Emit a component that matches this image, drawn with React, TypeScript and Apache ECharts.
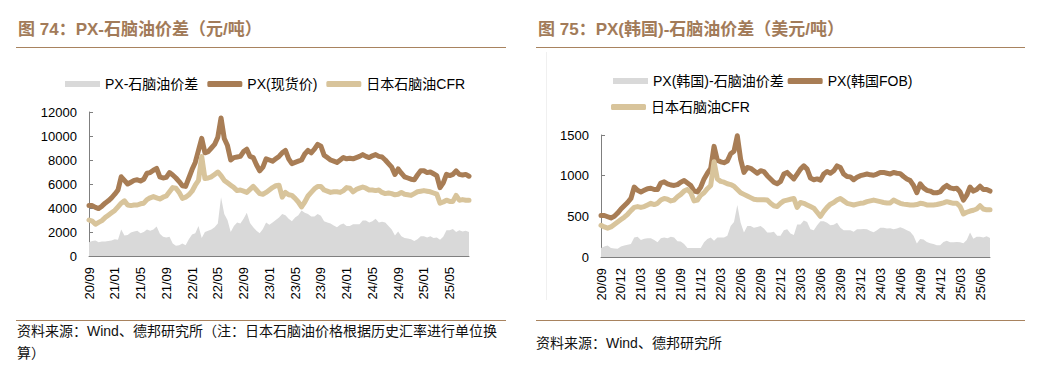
import React, { useEffect, useRef } from 'react';
import * as echarts from 'echarts';

const FONT = '"Liberation Sans", Arial, "Noto Sans CJK SC", sans-serif';
const CJK_FONT = '"Liberation Sans", "Noto Sans CJK SC", sans-serif';
const GREY = '#d9d9d9';
const DARK = '#a87d55';
const LIGHT = '#d8c49b';
const AXIS = '#7f7f7f';
const TITLE = '#a27b59';
const RULE = '#a8835f';

// ---------- Chart 74: PX vs naphtha (CNY/t), half-monthly from 2020-09 ----------
const pxSpot = [
  4200, 4200, 4050, 3950, 4150, 4400, 4600, 4850, 5150, 5500,
  6600, 6300, 6000, 6150, 6300, 6350, 6250, 6400, 6900, 6950,
  7150, 7300, 6600, 6500, 6550, 6950, 6750, 6500, 6200, 5850,
  5800, 6500, 7200, 7800, 8800, 9800, 8600, 8700, 9000, 9300,
  9900, 11500, 9800, 9200, 8000, 8200, 8250, 8300, 8700, 8900,
  8300, 8200, 7600, 7100, 7400, 8100, 8000, 7900, 8100, 8300,
  8600, 8800, 8100, 7700, 7800, 7900, 8000, 8500, 8800, 8600,
  8900, 9300, 9150, 8400, 8200, 8000, 7900, 7800, 8000, 8200,
  8100, 8150, 8100, 8200, 8300, 8450, 8300, 8200, 8350, 8450,
  8300, 8250, 8000, 7700, 7400, 6800, 7250, 6900, 6600, 6500,
  6400, 6350, 6750, 7100, 7100, 6950, 7000, 6850, 6700, 5700,
  6100, 6800, 6700, 6800, 7100, 6800, 6750, 6800, 6650,
];
const naphthaCny = [
  3000, 2900, 2650, 2800, 2950, 3200, 3400, 3600, 3800, 4100,
  4400, 4600, 4250, 4200, 4250, 4250, 4350, 4400, 4700, 4850,
  4950, 4850, 4750, 4900, 5000, 5350, 5700, 5650, 5300, 4800,
  4900, 5100, 5400, 5900, 6300, 8300, 6450, 6500, 6600, 6800,
  7000, 6700, 6300, 6100, 5900, 5700, 5450, 5500, 5400, 5300,
  5550, 5800, 5500, 5200, 5150, 5300, 5500, 5700, 5850, 5900,
  4900, 5300, 5100, 5050, 4800, 4500, 4100, 4500, 5000, 5300,
  5600, 5800, 5800, 5500, 5400, 5300, 5350, 5350, 5300, 5450,
  5700, 5650, 5350, 5550, 5650, 5750, 5650, 5500, 5500, 5450,
  5500, 5300, 5200, 5250, 5200, 5100, 5150, 5300, 5150, 5100,
  5050, 5200, 5350, 5400, 5450, 5400, 5350, 5250, 5150, 4400,
  4500, 4650, 4550, 4550, 5050, 4650, 4700, 4650, 4650,
];
const spreadCny = [
  1150, 1250, 1300, 1150, 1200, 1200, 1250, 1300, 1400, 1350,
  2200, 1700, 1750, 1950, 2050, 2100, 1900, 2000, 2200, 2100,
  2200, 2450, 1850, 1600, 1550, 1600, 1050, 850, 900, 1050,
  900, 1400, 1800, 1900, 2500, 1500, 2000, 2100, 2200, 2400,
  2700, 4900, 3500, 3000, 2000, 2500, 2800, 2700, 3100, 3600,
  2750, 2400, 2100, 1900, 2250, 2800, 2600, 2800, 3000, 3200,
  3500, 3400, 3100, 2900, 3200, 3400, 3800, 3600, 3500, 3300,
  3300, 3500, 3350, 2900, 2800, 2700, 2550, 2400, 2600, 2700,
  2500, 2500, 2650, 2650, 2650, 2950, 2950, 2800, 2900, 3100,
  2800, 2850, 2800, 2500, 2200, 1700, 2050, 1650, 1500, 1450,
  1400, 1250, 1400, 1650, 1650, 1550, 1650, 1500, 1550, 1350,
  1600, 2150, 2150, 2250, 2000, 2150, 2050, 2100, 2000,
];

// ---------- Chart 75: PX Korea FOB vs naphtha (USD/t), half-monthly from 2020-09 ----------
const pxKorea = [
  510, 510, 495, 480, 500, 540, 590, 630, 670, 720,
  860, 820, 800, 820, 840, 845, 830, 830, 910, 925,
  900, 885, 880, 890, 920, 940, 910, 880, 810, 800,
  860, 960, 1030, 1090, 1360, 1190, 1170, 1160, 1180, 1270,
  1300, 1490, 1200, 1040, 1100, 1090, 1060, 1030, 1060, 1050,
  1000, 960, 920, 900, 930, 1020, 1040, 1000, 960, 1020,
  1080, 1120, 1080, 970, 950, 960, 945, 1020, 1050, 1030,
  1060, 1120, 1100, 1020, 990, 985, 950, 980, 1000, 1010,
  1020, 1010, 1005, 1020, 1040, 1040, 1030, 1020, 1040, 1030,
  1025, 990, 960, 940, 880, 790, 900, 850, 820, 810,
  790, 790, 800, 850, 880, 850, 840, 845, 800, 700,
  760, 860, 810, 830, 870, 830, 830, 810,
];
const naphthaUsd = [
  390, 370, 355, 370, 400, 430, 460, 490, 525, 570,
  610, 620, 610, 620, 640, 660, 645, 660, 700, 720,
  710, 690, 700, 740, 770, 810, 830, 790, 690, 700,
  760, 790, 840, 880, 1170, 960, 930, 920, 900, 890,
  870, 830, 790, 770, 750, 730, 710, 705, 705, 705,
  700, 660, 630, 620, 660, 690, 700, 710, 720, 610,
  670, 660, 640, 620, 600, 550, 500, 560, 610, 650,
  670, 700, 720, 690, 660, 650, 640, 650, 660, 665,
  680, 690, 700, 690, 680, 670, 665, 665, 700, 680,
  660, 650, 645, 640, 640, 645, 660, 655, 640, 640,
  640, 645, 655, 665, 680, 670, 660, 660, 620, 530,
  550, 565, 575, 590, 630, 590, 580, 580,
];
const spreadUsd = [
  110, 130, 140, 110, 105, 100, 130, 140, 150, 160,
  240, 250, 210, 225, 232, 230, 210, 180, 230, 240,
  230, 250, 240, 195, 190, 160, 110, 110, 110, 110,
  110, 180, 220, 240, 200, 240, 240, 240, 260, 380,
  430, 640, 420, 300, 380, 380, 360, 370, 380, 350,
  300, 300, 310, 260, 260, 330, 340, 290, 270, 400,
  400, 450, 430, 340, 330, 390, 440, 440, 420, 390,
  395, 420, 360, 330, 330, 330, 310, 340, 340, 345,
  340, 320, 305, 330, 360, 360, 350, 355, 340, 350,
  365, 350, 330, 310, 260, 165, 220, 215, 185, 170,
  160, 145, 145, 185, 200, 180, 180, 185, 180, 170,
  210, 300, 225, 250, 250, 240, 255, 235,
];

// half-monthly category dates starting 2020-09-01
function halfMonthDates(n: number): string[] {
  const out: string[] = [];
  for (let i = 0; i < n; i++) {
    const m = 8 + Math.floor(i / 2); // months since Jan 2020 (0-based)
    const y = 2020 + Math.floor(m / 12);
    const mm = (m % 12) + 1;
    out.push(`${y}-${String(mm).padStart(2, '0')}-${i % 2 === 0 ? '01' : '16'}`);
  }
  return out;
}
const datesCny = halfMonthDates(pxSpot.length);
const datesUsd = halfMonthDates(pxKorea.length);

const fmtDate = (v: string) => `${v.slice(2, 4)}/${v.slice(5, 7)}`;

function xAxisOf(grid: number, data: string[], step: number) {
  const show = (idx: number) => idx % step === 0;
  return {
    type: 'category',
    gridIndex: grid,
    data,
    boundaryGap: false,
    axisLine: { show: true, lineStyle: { color: AXIS, width: 1 } },
    axisTick: { show: true, inside: true, length: 4, interval: show, lineStyle: { color: AXIS } },
    axisLabel: {
      interval: show,
      rotate: 90,
      margin: 11,
      fontSize: 13,
      color: '#000',
      fontFamily: FONT,
      formatter: fmtDate,
    },
    splitLine: { show: false },
  };
}

function yAxisOf(grid: number, max: number, interval: number) {
  return {
    type: 'value',
    gridIndex: grid,
    min: 0,
    max,
    interval,
    axisLine: { show: true, lineStyle: { color: AXIS, width: 1 } },
    axisTick: { show: true, inside: true, length: 4, lineStyle: { color: AXIS } },
    axisLabel: {
      margin: 12,
      fontSize: 13,
      color: '#000',
      fontFamily: FONT,
      formatter: (v: number) => String(v),
    },
    splitLine: { show: false },
  };
}

function areaSeries(name: string, grid: number, data: number[]) {
  return {
    name,
    type: 'line',
    xAxisIndex: grid,
    yAxisIndex: grid,
    data,
    symbol: 'none',
    color: GREY,
    itemStyle: { color: GREY },
    lineStyle: { width: 0, color: GREY },
    areaStyle: { color: GREY, opacity: 1 },
    z: 1,
  };
}

function lineSeries(name: string, grid: number, data: number[], color: string, z: number) {
  return {
    name,
    type: 'line',
    xAxisIndex: grid,
    yAxisIndex: grid,
    data,
    symbol: 'none',
    color,
    itemStyle: { color },
    lineStyle: { width: 5, color, cap: 'round', join: 'round' },
    z,
  };
}

const legendText = { fontSize: 14, color: '#000', fontFamily: CJK_FONT };

const option = {
  animation: false,
  backgroundColor: '#fff',
  grid: [
    { left: 89, top: 112, width: 380, height: 144, containLabel: false },
    { left: 601, top: 135, width: 389, height: 122, containLabel: false },
  ],
  xAxis: [xAxisOf(0, datesCny, 8), xAxisOf(1, datesUsd, 6)],
  yAxis: [yAxisOf(0, 12000, 2000), yAxisOf(1, 1500, 500)],
  legend: [
    {
      left: 60,
      top: 72,
      itemWidth: 35,
      itemHeight: 6,
      itemGap: 9,
      textStyle: legendText,
      data: [
        { name: 'PX-石脑油价差', icon: 'rect' },
        { name: 'PX(现货价)', icon: 'roundRect' },
        { name: '日本石脑油CFR', icon: 'roundRect' },
      ],
    },
    {
      left: 608,
      top: 69,
      itemWidth: 35,
      itemHeight: 6,
      itemGap: 4,
      textStyle: legendText,
      data: [
        { name: 'PX(韩国)-石脑油价差', icon: 'rect' },
        { name: 'PX(韩国FOB)', icon: 'roundRect' },
      ],
    },
    {
      left: 606,
      top: 95,
      itemWidth: 35,
      itemHeight: 6,
      itemGap: 4,
      textStyle: legendText,
      data: [{ name: '日本石脑油CFR', icon: 'roundRect' }],
    },
  ],
  series: [
    areaSeries('PX-石脑油价差', 0, spreadCny),
    lineSeries('PX(现货价)', 0, pxSpot, DARK, 3),
    lineSeries('日本石脑油CFR', 0, naphthaCny, LIGHT, 4),
    areaSeries('PX(韩国)-石脑油价差', 1, spreadUsd),
    lineSeries('PX(韩国FOB)', 1, pxKorea, DARK, 3),
    lineSeries('日本石脑油CFR', 1, naphthaUsd, LIGHT, 4),
  ],
  graphic: [
    {
      type: 'text',
      left: 18,
      top: 21,
      style: { text: '图 74：PX-石脑油价差（元/吨）', font: `bold 17px ${CJK_FONT}`, fill: TITLE },
    },
    {
      type: 'text',
      left: 538,
      top: 21,
      style: { text: '图 75：PX(韩国)-石脑油价差（美元/吨）', font: `bold 17px ${CJK_FONT}`, fill: TITLE },
    },
    { type: 'line', shape: { x1: 16, y1: 47.5, x2: 506, y2: 47.5 }, style: { stroke: RULE, lineWidth: 1 } },
    { type: 'line', shape: { x1: 536, y1: 47.5, x2: 1025, y2: 47.5 }, style: { stroke: RULE, lineWidth: 1 } },
    { type: 'line', shape: { x1: 16, y1: 320.5, x2: 506, y2: 320.5 }, style: { stroke: RULE, lineWidth: 1 } },
    { type: 'line', shape: { x1: 536, y1: 320.5, x2: 1025, y2: 320.5 }, style: { stroke: RULE, lineWidth: 1 } },
    { type: 'line', shape: { x1: 546.5, y1: 52, x2: 546.5, y2: 300 }, style: { stroke: '#f0f0f0', lineWidth: 1 } },
    {
      type: 'text',
      left: 17,
      top: 324,
      style: {
        text: '资料来源：Wind、德邦研究所（注：日本石脑油价格根据历史汇率进行单位换',
        font: `14px ${CJK_FONT}`,
        fill: '#111',
      },
    },
    {
      type: 'text',
      left: 17,
      top: 346,
      style: { text: '算）', font: `14px ${CJK_FONT}`, fill: '#111' },
    },
    {
      type: 'text',
      left: 536,
      top: 336,
      style: { text: '资料来源：Wind、德邦研究所', font: `14px ${CJK_FONT}`, fill: '#111' },
    },
  ],
};

export default function App() {
  const ref = useRef<HTMLDivElement>(null);
  useEffect(() => {
    if (!ref.current) return;
    const chart = echarts.init(ref.current, null, { renderer: 'svg' });
    chart.setOption(option as any);
    return () => chart.dispose();
  }, []);
  return (
    <div
      ref={ref}
      style={{ position: 'absolute', left: 0, top: 0, width: 1047, height: 366, background: '#fff' }}
    />
  );
}
